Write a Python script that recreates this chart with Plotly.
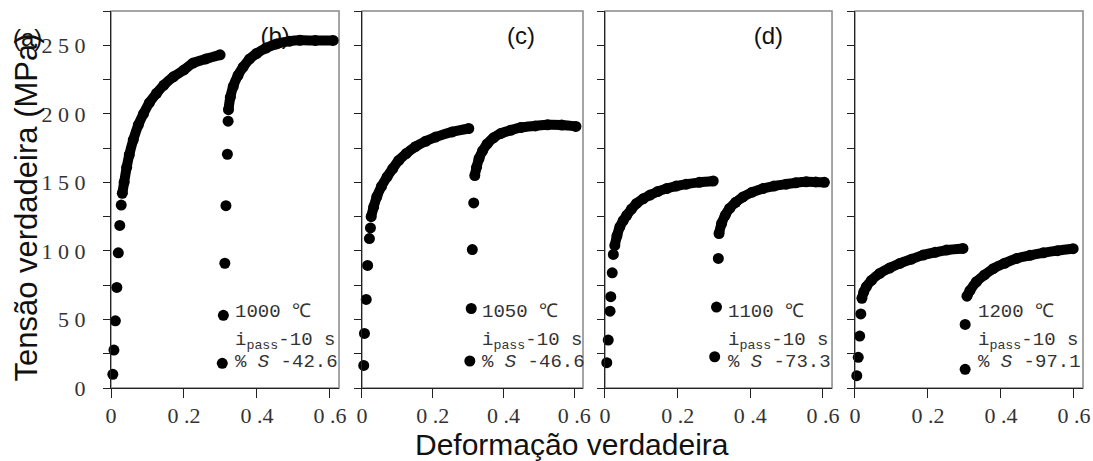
import plotly.graph_objects as go

# ---------------- data ----------------
# Panel 1 : 1000 C
p1_a_sx = [0.005, 0.008, 0.012, 0.016, 0.020, 0.024, 0.028]
p1_a_sy = [10, 27.7, 49, 73.4, 98.6, 118.6, 133.4]
p1_a_cx = [0.031, 0.036, 0.043, 0.050, 0.061, 0.075, 0.089, 0.105, 0.125, 0.145, 0.171, 0.200, 0.225, 0.260, 0.299]
p1_a_cy = [142, 150, 161, 170, 181, 192, 200, 208, 215, 221, 227, 232, 237, 240, 243]
p1_b_sx = [0.305, 0.308, 0.312, 0.315, 0.319, 0.321]
p1_b_sy = [18, 53, 91, 133, 170.5, 194.6]
p1_b_cx = [0.322, 0.327, 0.335, 0.348, 0.362, 0.380, 0.399, 0.425, 0.454, 0.490, 0.518, 0.560, 0.609]
p1_b_cy = [203, 212, 220, 228, 234, 240, 244, 248, 251, 253, 253.6, 253.5, 253.5]

# Panel 2 : 1050 C
p2_a_sx = [0.005, 0.007, 0.012, 0.016, 0.021, 0.024]
p2_a_sy = [16.5, 39.8, 64.6, 89.4, 109, 116.8]
p2_a_cx = [0.026, 0.033, 0.042, 0.055, 0.071, 0.087, 0.104, 0.125, 0.151, 0.180, 0.208, 0.255, 0.302]
p2_a_cy = [125, 132, 139.5, 147, 154, 160, 166, 171, 176, 180, 183, 186.8, 189.3]
p2_b_sx = [0.305, 0.309, 0.312, 0.316]
p2_b_sy = [19.7, 58, 101, 135]
p2_b_cx = [0.319, 0.324, 0.331, 0.341, 0.354, 0.372, 0.392, 0.420, 0.449, 0.490, 0.525, 0.565, 0.605]
p2_b_cy = [155, 161, 167.4, 173, 178, 182.5, 185.6, 188, 190, 191.2, 192, 191.8, 190.8]

# Panel 3 : 1100 C
p3_a_sx = [0.005, 0.009, 0.014, 0.016, 0.020, 0.023]
p3_a_sy = [18.5, 35, 56, 66.6, 84, 97.4]
p3_a_cx = [0.027, 0.033, 0.041, 0.050, 0.060, 0.073, 0.087, 0.105, 0.124, 0.145, 0.170, 0.196, 0.224, 0.260, 0.298]
p3_a_cy = [104, 111, 117.6, 122, 126, 130.5, 134.6, 138, 140.7, 143.3, 145.5, 147.3, 148.7, 150, 151]
p3_b_sx = [0.302, 0.307, 0.312]
p3_b_sy = [22.8, 59, 94.5]
p3_b_cx = [0.314, 0.321, 0.331, 0.343, 0.360, 0.380, 0.405, 0.435, 0.465, 0.499, 0.525, 0.554, 0.580, 0.604]
p3_b_cy = [112.7, 120, 126, 131, 135.5, 139.4, 142.8, 145.5, 147.3, 148.7, 149.7, 150.4, 150.3, 150]

# Panel 4 : 1200 C
p4_a_sx = [0.005, 0.009, 0.013, 0.016]
p4_a_sy = [9, 22.4, 37.9, 54]
p4_a_cx = [0.019, 0.024, 0.031, 0.045, 0.068, 0.095, 0.123, 0.155, 0.187, 0.220, 0.251, 0.296]
p4_a_cy = [65.4, 70, 73.8, 78.5, 83.6, 87.5, 90.9, 94, 97, 99, 100.6, 101.8]
p4_b_sx = [0.302, 0.302]
p4_b_sy = [13.6, 46.4]
p4_b_cx = [0.307, 0.315, 0.333, 0.355, 0.379, 0.410, 0.443, 0.480, 0.516, 0.555, 0.598]
p4_b_cy = [67, 71, 77.5, 82.5, 87, 91, 94.5, 96.8, 98.6, 100.2, 101.6]

temperatures = ["1000 ℃", "1050 ℃", "1100 ℃", "1200 ℃"]
interpass = ["i<sub>pass</sub>-10 s"] * 4
softening = ["% <i>S</i> -42.6", "% <i>S</i> -46.6", "% <i>S</i> -73.3", "% <i>S</i> -97.1"]
panel_labels = ["(b)", "(c)", "(d)"]

x_tickvals = [0, 0.2, 0.4, 0.6]
x_ticktext = ["0", "0 .2", "0 .4", "0 .6"]
y_tickvals = [0, 50, 100, 150, 200, 250]
y_ticktext = ["0", "5 0", "1 0 0", "1 5 0", "2 0 0", "2 5 0"]
y_minorvals = [25, 75, 125, 175, 225, 275]

# ---------------- figure ----------------
domains = [[0.0, 0.2346], [0.2582, 0.4856], [0.5082, 0.7418], [0.7654, 1.0]]
panels = [
    (p1_a_sx, p1_a_sy, p1_a_cx, p1_a_cy, p1_b_sx, p1_b_sy, p1_b_cx, p1_b_cy),
    (p2_a_sx, p2_a_sy, p2_a_cx, p2_a_cy, p2_b_sx, p2_b_sy, p2_b_cx, p2_b_cy),
    (p3_a_sx, p3_a_sy, p3_a_cx, p3_a_cy, p3_b_sx, p3_b_sy, p3_b_cx, p3_b_cy),
    (p4_a_sx, p4_a_sy, p4_a_cx, p4_a_cy, p4_b_sx, p4_b_sy, p4_b_cx, p4_b_cy),
]

fig = go.Figure()
MS = 11
LW = 10
tick_font = dict(family="Liberation Serif", size=22, color="#333")
note_font = dict(family="Liberation Mono", size=19, color="#333")

# panel letters drawn under the markers
for i, lab in enumerate(panel_labels):
    ax = "" if i == 0 else str(i + 1)
    fig.add_trace(go.Scatter(x=[0.45], y=[255], mode="text", text=[lab],
                             textfont=dict(family="Liberation Sans", size=24, color="#111"),
                             xaxis="x" + ax, yaxis="y" + ax, showlegend=False,
                             hoverinfo="skip"))

for i, (asx, asy, acx, acy, bsx, bsy, bcx, bcy) in enumerate(panels):
    ax = "" if i == 0 else str(i + 1)
    for sx, sy in ((asx, asy), (bsx, bsy)):
        fig.add_trace(go.Scatter(x=sx, y=sy, mode="markers",
                                 marker=dict(size=MS, color="black"),
                                 xaxis="x" + ax, yaxis="y" + ax, showlegend=False,
                                 cliponaxis=False))
    for cx, cy in ((acx, acy), (bcx, bcy)):
        fig.add_trace(go.Scatter(x=cx, y=cy, mode="lines+markers",
                                 line=dict(color="black", width=LW, shape="spline"),
                                 marker=dict(size=MS, color="black"),
                                 xaxis="x" + ax, yaxis="y" + ax, showlegend=False,
                                 cliponaxis=False))

layout = dict(
    width=1093, height=461,
    margin=dict(l=111, r=10, t=11, b=73),
    paper_bgcolor="white", plot_bgcolor="white",
    showlegend=False,
)
shapes = []
annotations = []
for i in range(4):
    ax = "" if i == 0 else str(i + 1)
    layout["xaxis" + ax] = dict(
        domain=domains[i], range=[0, 0.625], anchor="y" + ax,
        tickmode="array", tickvals=x_tickvals, ticktext=x_ticktext,
        ticks="outside", ticklen=9,
        tickcolor="#222", showline=True, linecolor="#222", linewidth=1,
        showgrid=False, zeroline=False, tickfont=tick_font, ticklabelstandoff=-1,
        automargin=False,
    )
    layout["yaxis" + ax] = dict(
        domain=[0, 1], range=[0, 275], anchor="x" + ax,
        tickmode="array", tickvals=y_tickvals, ticktext=y_ticktext,
        ticks="outside", ticklen=7,
        minor=dict(tickmode="array", tickvals=y_minorvals, ticks="outside",
                   ticklen=7, tickcolor="#222", showgrid=False),
        tickcolor="#222", showline=True, linecolor="#222", linewidth=1,
        showgrid=False, zeroline=False, tickfont=tick_font,
        showticklabels=(i == 0), ticklabelstandoff=13, automargin=False,
    )
    shapes.append(dict(type="rect", xref="paper", yref="paper",
                       x0=domains[i][0], x1=domains[i][1], y0=0, y1=1,
                       line=dict(color="#888", width=1.5), layer="below"))
    for txt, yv in ((temperatures[i], 55.4), (interpass[i], 34.5), (softening[i], 19.2)):
        annotations.append(dict(x=0.333, y=yv, xref="x" + ax, yref="y" + ax,
                                text=txt, showarrow=False, xanchor="left",
                                yanchor="middle", font=note_font))

annotations.append(dict(x=-0.0864, y=0.931, xref="paper", yref="paper", text="(a)",
                        showarrow=False, xanchor="center", yanchor="middle",
                        font=dict(family="Liberation Sans", size=24, color="#111")))
annotations.append(dict(x=-0.0874, y=0.4788, xref="paper", yref="paper",
                        text="Tensão verdadeira (MPa)", textangle=-90,
                        showarrow=False, xanchor="center", yanchor="middle",
                        font=dict(family="Liberation Sans", size=31, color="#111")))
annotations.append(dict(x=0.474, y=-0.1008, xref="paper", yref="paper",
                        text="Deformação verdadeira",
                        showarrow=False, xanchor="center", yanchor="top",
                        font=dict(family="Liberation Sans", size=30, color="#111")))
layout["shapes"] = shapes
layout["annotations"] = annotations
fig.update_layout(**layout)
fig.write_html("out.html", config={"displayModeBar": False},
               post_script="document.body.style.margin='0';document.body.style.overflow='hidden';")
